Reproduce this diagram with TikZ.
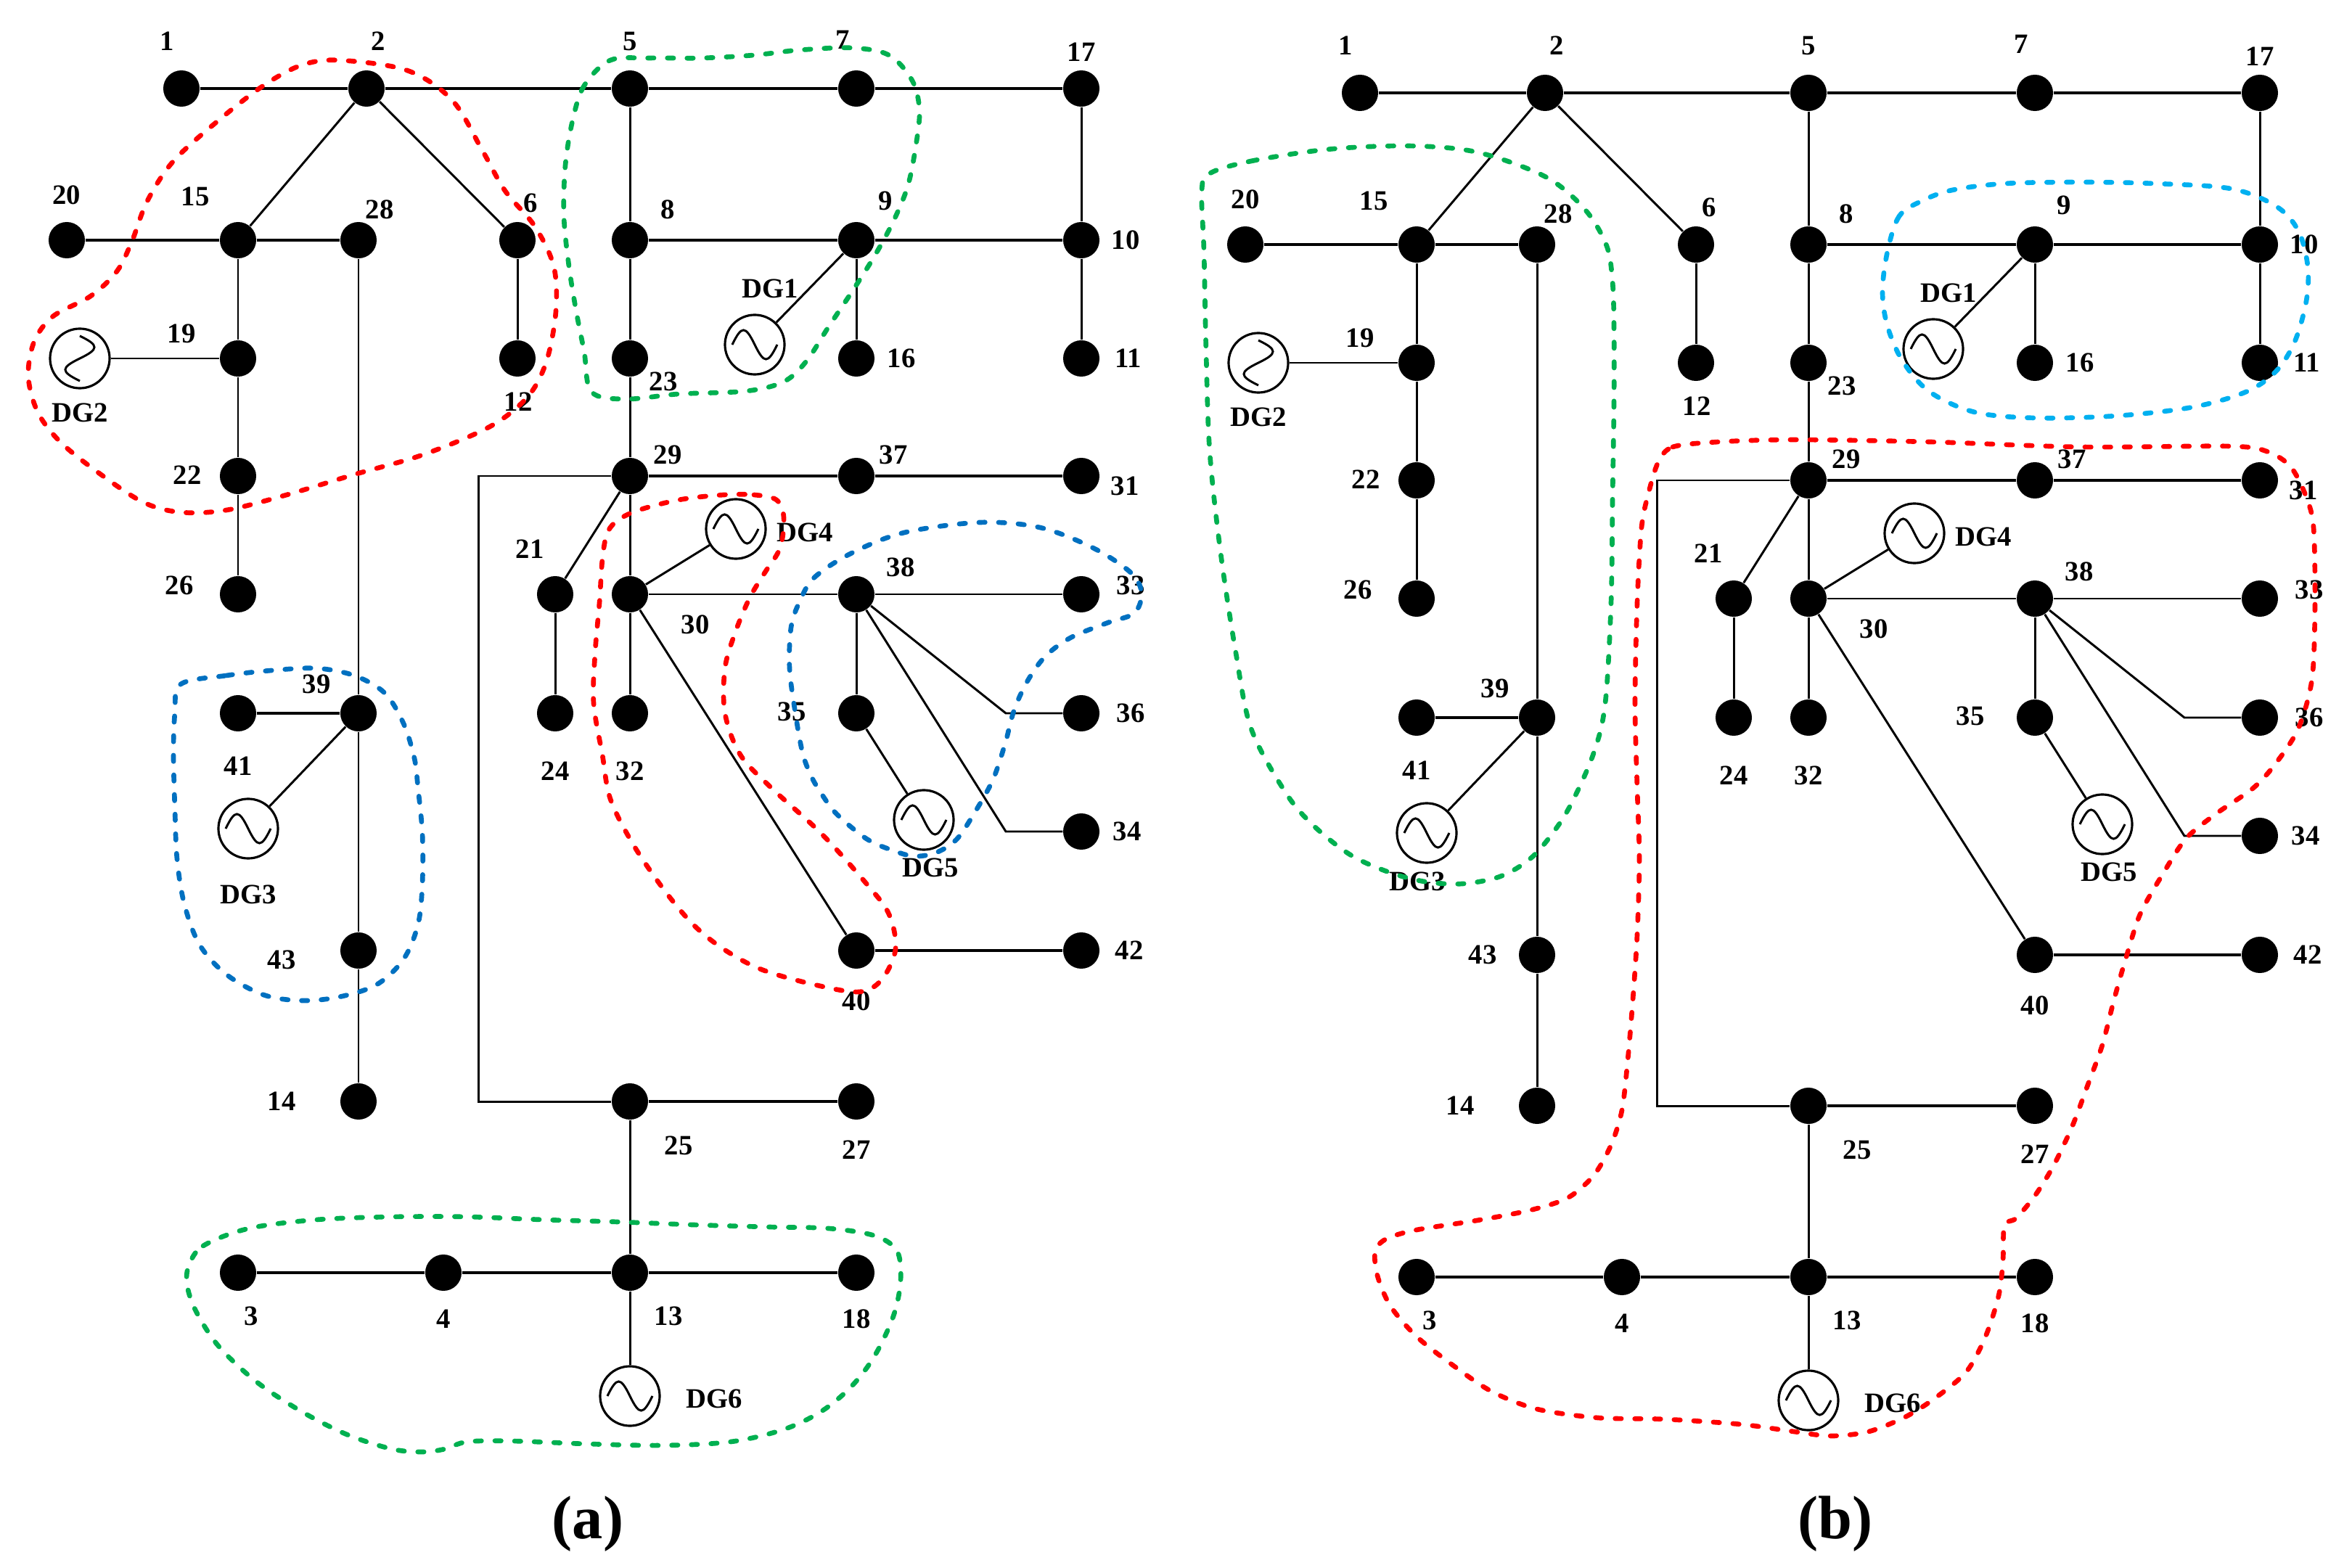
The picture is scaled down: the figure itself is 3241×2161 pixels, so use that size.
\documentclass[tikz,border=0pt]{standalone}
\usepackage{fontspec}
\setmainfont{Liberation Serif}
\definecolor{ored}{RGB}{255,0,0}
\definecolor{ogreen}{RGB}{0,176,80}
\definecolor{oblue}{RGB}{0,112,192}
\definecolor{olblue}{RGB}{0,176,240}
\tikzset{
 bus/.style={circle, fill=black, minimum size=0.5cm, inner sep=0pt},
 dg/.style={circle, draw=black, fill=white, line width=0.9pt, minimum size=0.82cm, inner sep=0pt},
 wave/.style={line width=0.85pt},
 lbl/.style={font=\bfseries\fontsize{11pt}{13pt}\selectfont, inner sep=0pt},
 captxt/.style={font=\bfseries\fontsize{24pt}{28pt}\selectfont, inner sep=0pt},
 thk/.style={line width=1.15pt},
 thn/.style={line width=0.85pt},
 outl/.style={line width=1.9pt, line cap=round, dash pattern=on 2.4pt off 5.3pt},
}
\newcommand{\dgwave}[2]{\draw[wave, shift={(#1.center)}, rotate=#2] (-0.31cm,0cm) .. controls (-0.18cm,0.267cm) and (-0.13cm,0.267cm) .. (0cm,0cm) .. controls (0.13cm,-0.267cm) and (0.18cm,-0.267cm) .. (0.31cm,0cm);}
\newcommand{\netpanel}[3]{%
 \node[bus] (#1n1) at (250,122) {};
 \node[bus] (#1n2) at (505,122) {};
 \node[bus] (#1n5) at (868,122) {};
 \node[bus] (#1n7) at (1180,122) {};
 \node[bus] (#1n17) at (1490,122) {};
 \node[bus] (#1n20) at (92,331) {};
 \node[bus] (#1n15) at (328,331) {};
 \node[bus] (#1n28) at (494,331) {};
 \node[bus] (#1n6) at (713,331) {};
 \node[bus] (#1n8) at (868,331) {};
 \node[bus] (#1n9) at (1180,331) {};
 \node[bus] (#1n10) at (1490,331) {};
 \node[bus] (#1n19) at (328,494) {};
 \node[bus] (#1n12) at (713,494) {};
 \node[bus] (#1n23) at (868,494) {};
 \node[bus] (#1n16) at (1180,494) {};
 \node[bus] (#1n11) at (1490,494) {};
 \node[bus] (#1n22) at (328,656) {};
 \node[bus] (#1n29) at (868,656) {};
 \node[bus] (#1n37) at (1180,656) {};
 \node[bus] (#1n31) at (1490,656) {};
 \node[bus] (#1n26) at (328,819) {};
 \node[bus] (#1n21) at (765,819) {};
 \node[bus] (#1n30) at (868,819) {};
 \node[bus] (#1n38) at (1180,819) {};
 \node[bus] (#1n33) at (1490,819) {};
 \node[bus] (#1n41) at (328,983) {};
 \node[bus] (#1n39) at (494,983) {};
 \node[bus] (#1n24) at (765,983) {};
 \node[bus] (#1n32) at (868,983) {};
 \node[bus] (#1n35) at (1180,983) {};
 \node[bus] (#1n36) at (1490,983) {};
 \node[bus] (#1n34) at (1490,1146) {};
 \node[bus] (#1n43) at (494,1310) {};
 \node[bus] (#1n40) at (1180,1310) {};
 \node[bus] (#1n42) at (1490,1310) {};
 \node[bus] (#1n14) at (494,1518) {};
 \node[bus] (#1n25) at (868,1518) {};
 \node[bus] (#1n27) at (1180,1518) {};
 \node[bus] (#1n3) at (328,1754) {};
 \node[bus] (#1n4) at (611,1754) {};
 \node[bus] (#1n13) at (868,1754) {};
 \node[bus] (#1n18) at (1180,1754) {};
 \node[dg] (#1g1) at (1040,475) {};
 \node[dg] (#1g2) at (110,494) {};
 \node[dg] (#1g3) at (342,1142) {};
 \node[dg] (#1g4) at (1014,729) {};
 \node[dg] (#1g5) at (1273,1130) {};
 \node[dg] (#1g6) at (868,1924) {};
 \dgwave{#1g1}{0}
 \dgwave{#1g2}{-90}
 \dgwave{#1g3}{0}
 \dgwave{#1g4}{0}
 \dgwave{#1g5}{0}
 \dgwave{#1g6}{0}
 \coordinate (#1k29) at (659,656);
 \coordinate (#1k25) at (659,1518);
 \coordinate (#1k36) at (1386,983);
 \coordinate (#1k34) at (1386,1146);
 % thick bus lines
 \draw[thk] (#1n1) -- (#1n2);
 \draw[thk] (#1n2) -- (#1n5);
 \draw[thk] (#1n5) -- (#1n7);
 \draw[thk] (#1n7) -- (#1n17);
 \draw[thk] (#1n20) -- (#1n15);
 \draw[thk] (#1n15) -- (#1n28);
 \draw[thk] (#1n8) -- (#1n9);
 \draw[thk] (#1n9) -- (#1n10);
 \draw[thk] (#1n29) -- (#1n37);
 \draw[thk] (#1n37) -- (#1n31);
 \draw[thk] (#1n25) -- (#1n27);
 \draw[thk] (#1n3) -- (#1n4);
 \draw[thk] (#1n4) -- (#1n13);
 \draw[thk] (#1n13) -- (#1n18);
 \draw[thk] (#1n40) -- (#1n42);
 \draw[thk] (#1n41) -- (#1n39);
 % thin lines
 \draw[thn] (#1n30) -- (#1n38);
 \draw[thn] (#1n38) -- (#1n33);
 \draw[thn] (#1g2) -- (#1n19);
 \draw[thn] (#1n2) -- (#1n15);
 \draw[thn] (#1n2) -- (#1n6);
 \draw[thn] (#1n15) -- (#1n19);
 \draw[thn] (#1n19) -- (#1n22);
 \draw[thn] (#1n22) -- (#1n26);
 \draw[thn] (#1n28) -- (#1n39);
 \draw[thn] (#1n39) -- (#1n43);
 \draw[thn] (#1n43) -- (#1n14);
 \draw[thn] (#1g3) -- (#1n39);
 \draw[thn] (#1n6) -- (#1n12);
 \draw[thn] (#1n5) -- (#1n8);
 \draw[thn] (#1n8) -- (#1n23);
 \draw[thn] (#1n23) -- (#1n29);
 \draw[thn] (#1n29) -- (#1n30);
 \draw[thn] (#1n30) -- (#1n32);
 \draw[thn] (#1n9) -- (#1n16);
 \draw[thn] (#1g1) -- (#1n9);
 \draw[thn] (#1n17) -- (#1n10);
 \draw[thn] (#1n10) -- (#1n11);
 \draw[thn] (#1n29) -- (#1n21);
 \draw[thn] (#1n21) -- (#1n24);
 \draw[thn] (#1n30) -- (#1g4);
 \draw[thn] (#1n30) -- (#1n40);
 \draw[thn] (#1n38) -- (#1n35);
 \draw[thn] (#1n35) -- (#1g5);
 \draw[thn] (#1n38) -- (#1k36) -- (#1n36);
 \draw[thn] (#1n38) -- (#1k34) -- (#1n34);
 \draw[thn] (#1n29) -- (#1k29) -- (#1k25) -- (#1n25);
 \draw[thn] (#1n25) -- (#1n13);
 \draw[thn] (#1n13) -- (#1g6);
 % labels
 \node[lbl] (#1t1) at (230,57) {1};
 \node[lbl] (#1t2) at (521,57) {2};
 \node[lbl] (#1t5) at (868,57) {5};
 \node[lbl] (#1t7) at (1161,55) {7};
 \node[lbl] (#1t17) at (1490,72) {17};
 \node[lbl] (#1t20) at (92,269) {20};
 \node[lbl] (#1t15) at (269,271) {15};
 \node[lbl] (#1t28) at (523,289) {28};
 \node[lbl] (#1t6) at (731,280) {6};
 \node[lbl] (#1t8) at (920,289) {8};
 \node[lbl] (#1t9) at (1220,277) {9};
 \node[lbl] (#1t10) at (1551,331) {10};
 \node[lbl] (#1t19) at (250,460) {19};
 \node[lbl] (#1t12) at (714,554) {12};
 \node[lbl] (#1t23) at (914,526) {23};
 \node[lbl] (#1t16) at (1242,494) {16};
 \node[lbl] (#1t11) at (1555,494) {11};
 \node[lbl] (#1t22) at (258,655) {22};
 \node[lbl] (#1t29) at (920,627) {29};
 \node[lbl] (#1t37) at (1231,627) {37};
 \node[lbl] (#1t31) at (1550,670) {31};
 \node[lbl] (#1t21) at (730,757) {21};
 \node[lbl] (#1t30) at (958,861) {30};
 \node[lbl] (#1t38) at (1241,782) {38};
 \node[lbl] (#1t33) at (1558,807) {33};
 \node[lbl] (#1t26) at (247,807) {26};
 \node[lbl] (#1t39) at (436,943) {39};
 \node[lbl] (#1t41) at (328,1056) {41};
 \node[lbl] (#1t24) at (765,1063) {24};
 \node[lbl] (#1t32) at (868,1063) {32};
 \node[lbl] (#1t35) at (1091,981) {35};
 \node[lbl] (#1t36) at (1558,983) {36};
 \node[lbl] (#1t34) at (1553,1146) {34};
 \node[lbl] (#1t43) at (#2) {43};
 \node[lbl] (#1t40) at (1180,1380) {40};
 \node[lbl] (#1t42) at (1556,1310) {42};
 \node[lbl] (#1t14) at (388,1518) {14};
 \node[lbl] (#1t25) at (935,1579) {25};
 \node[lbl] (#1t27) at (1180,1585) {27};
 \node[lbl] (#1t3) at (346,1814) {3};
 \node[lbl] (#1t4) at (611,1818) {4};
 \node[lbl] (#1t13) at (921,1814) {13};
 \node[lbl] (#1t18) at (1180,1818) {18};
 \node[lbl] (#1tg1) at (1061,398) {DG1};
 \node[lbl] (#1tg2) at (110,569) {DG2};
 \node[lbl] (#1tg3) at (#3) {DG3};
 \node[lbl] (#1tg4) at (1109,734) {DG4};
 \node[lbl] (#1tg5) at (1282,1196) {DG5};
 \node[lbl] (#1tg6) at (984,1928) {DG6};
}
\begin{document}
\begin{tikzpicture}[x=0.01cm, y=-0.01cm]
\fill[white] (0,0) rectangle (3241,2161);
\useasboundingbox (0,0) rectangle (3241,2161);
\begin{scope}
\netpanel{a}{388,1323}{342,1233}
\end{scope}
\begin{scope}[shift={(1624,6)}]
\netpanel{b}{419,1310}{329,1209}
\end{scope}
\node[captxt] (capa) at (810,2100) {(a)};
\node[captxt] (capb) at (2529,2100) {(b)};
% outlines panel (a)
\draw[outl, ored] plot[smooth cycle, tension=0.55] coordinates {(467,83) (561,97) (623,138) (665,208) (696,263) (737,312) (763,367) (766,429) (753,498) (727,547) (675,588) (582,627) (488,654) (395,682) (312,703) (249,706) (197,692) (135,651) (83,609) (52,568) (39,519) (47,471) (73,436) (125,408) (161,374) (182,332) (203,277) (239,222) (301,166) (363,118) (415,90)};
\draw[outl, ogreen] plot[smooth cycle, tension=0.55] coordinates {(841,83) (805,118) (789,166) (779,228) (777,298) (784,367) (794,429) (805,485) (815,540) (862,550) (935,543) (1028,539) (1080,526) (1111,498) (1142,450) (1174,402) (1205,353) (1231,305) (1251,256) (1262,201) (1267,152) (1257,111) (1225,76) (1174,66) (1101,69) (1039,76) (966,80) (893,80)};
\draw[outl, ored] plot[smooth cycle, tension=0.55] coordinates {(997,682) (1039,682) (1070,689) (1080,713) (1075,755) (1054,789) (1033,824) (1013,872) (999,921) (999,983) (1020,1040) (1062,1085) (1132,1149) (1194,1218) (1225,1260) (1234,1308) (1215,1350) (1184,1367) (1122,1357) (1049,1336) (997,1308) (955,1274) (914,1225) (872,1163) (841,1101) (830,1040) (818,969) (820,900) (826,831) (831,762) (841,727) (872,706) (935,689)};
\draw[outl, oblue] plot[smooth cycle, tension=0.55] coordinates {(1101,831) (1122,796) (1174,762) (1246,734) (1350,720) (1433,727) (1506,755) (1558,789) (1573,817) (1563,845) (1527,858) (1475,879) (1440,905) (1415,940) (1397,980) (1385,1025) (1368,1075) (1343,1120) (1318,1157) (1290,1175) (1260,1180) (1230,1172) (1194,1156) (1153,1122) (1132,1094) (1118,1070) (1106,1038) (1096,983) (1088,921) (1090,865)};
\draw[outl, oblue] plot[smooth cycle, tension=0.55] coordinates {(249,943) (312,931) (374,924) (436,921) (488,931) (530,955) (556,997) (571,1045) (576,1086) (582,1149) (582,1218) (576,1274) (556,1322) (519,1357) (467,1374) (415,1379) (363,1371) (312,1343) (275,1302) (254,1246) (244,1184) (241,1115) (239,1038) (241,983)};
\draw[outl, ogreen] plot[smooth cycle, tension=0.55] coordinates {(260,1745) (280,1717) (343,1693) (436,1681) (540,1677) (644,1677) (748,1681) (852,1684) (955,1688) (1059,1691) (1142,1693) (1205,1703) (1236,1724) (1241,1765) (1231,1814) (1205,1869) (1173,1911) (1132,1945) (1080,1970) (1007,1987) (914,1992) (810,1990) (706,1986) (644,1987) (613,1997) (582,2001) (540,1997) (478,1977) (415,1945) (353,1904) (301,1855) (270,1807) (258,1772)};
% outlines panel (b)
\draw[outl, ogreen] plot[smooth cycle, tension=0.55] coordinates {(1667,239) (1724,222) (1828,206) (1932,201) (2015,206) (2077,222) (2139,249) (2186,291) (2214,339) (2222,388) (2224,450) (2224,554) (2222,692) (2220,831) (2212,969) (2196,1038) (2165,1108) (2139,1149) (2108,1184) (2067,1208) (2015,1218) (1963,1215) (1911,1201) (1859,1177) (1807,1135) (1770,1090) (1724,1004) (1703,900) (1682,762) (1667,623) (1662,485) (1659,346) (1656,263)};
\draw[outl, olblue] plot[smooth cycle, tension=0.55] coordinates {(2648,277) (2617,298) (2601,346) (2594,402) (2601,450) (2622,498) (2659,540) (2721,568) (2804,576) (2918,573) (3022,561) (3095,540) (3136,512) (3162,471) (3178,415) (3180,367) (3167,318) (3136,284) (3074,260) (2970,253) (2866,251) (2762,253) (2690,262)};
\draw[outl, ored] plot[smooth cycle, tension=0.5] coordinates {(2285,637) (2305,616) (2368,609) (2472,606) (2659,609) (2866,616) (3074,615) (3126,623) (3157,644) (3178,685) (3188,727) (3190,831) (3186,935) (3167,1004) (3136,1052) (3105,1086) (3053,1122) (3012,1156) (2980,1205) (2949,1260) (2929,1322) (2913,1378) (2897,1440) (2877,1495) (2856,1551) (2830,1606) (2804,1648) (2778,1679) (2762,1689) (2760,1738) (2754,1786) (2736,1842) (2710,1890) (2669,1925) (2627,1952) (2575,1973) (2523,1979) (2472,1973) (2399,1963) (2295,1956) (2202,1954) (2118,1942) (2056,1918) (2004,1883) (1952,1842) (1916,1800) (1898,1758) (1895,1724) (1911,1707) (1952,1695) (2035,1682) (2108,1668) (2160,1651) (2196,1620) (2220,1578) (2235,1530) (2243,1461) (2250,1378) (2256,1288) (2259,1184) (2256,1086) (2253,969) (2256,831) (2262,727) (2272,678)};
\end{tikzpicture}
\end{document}
